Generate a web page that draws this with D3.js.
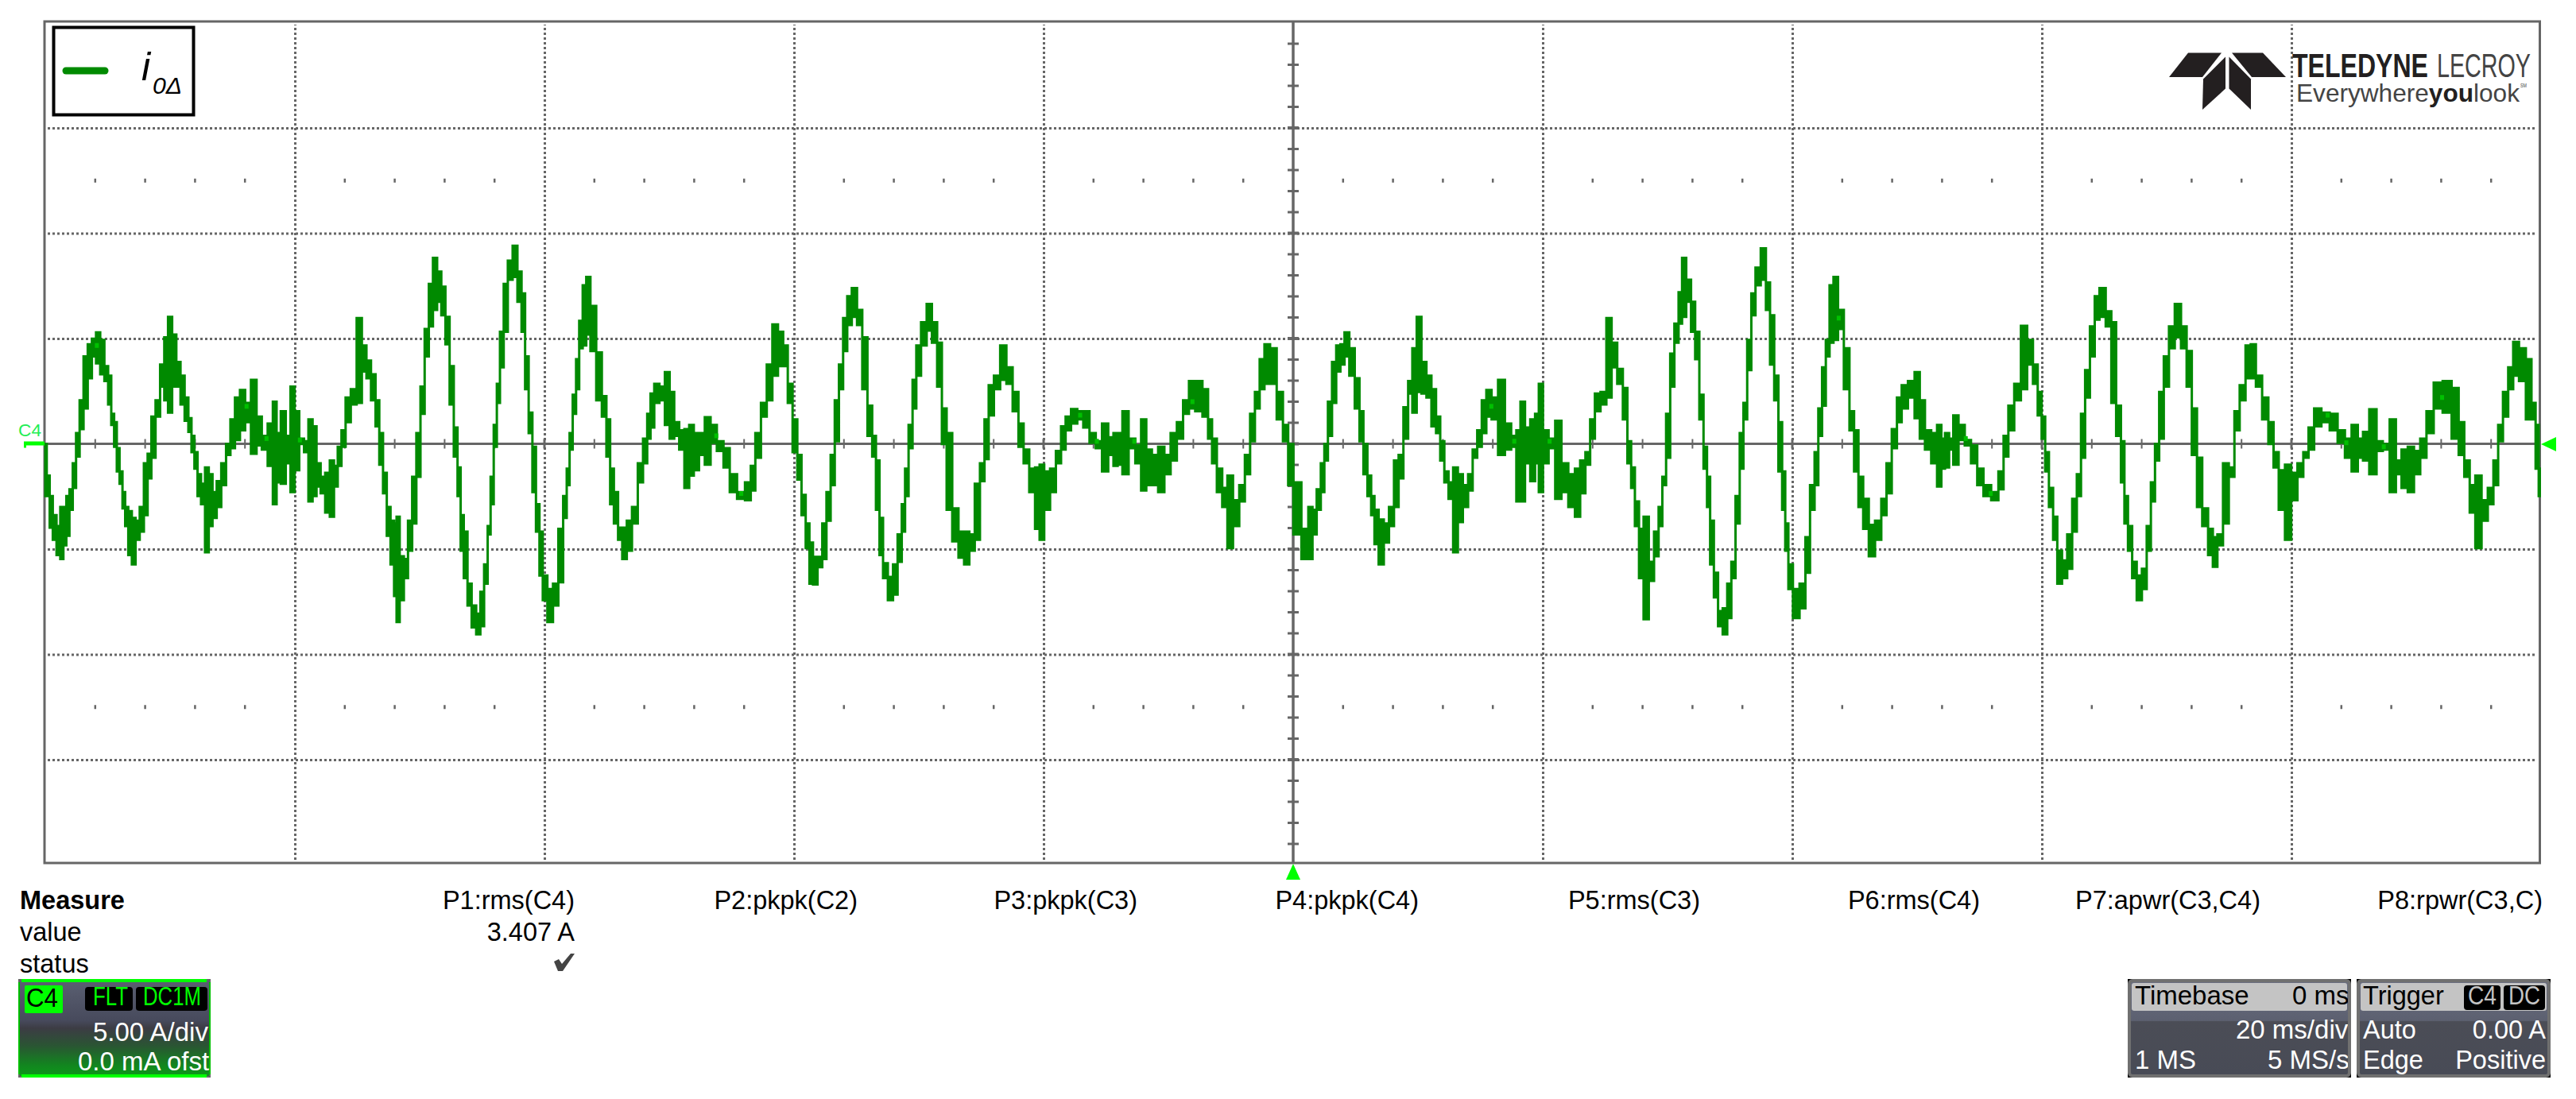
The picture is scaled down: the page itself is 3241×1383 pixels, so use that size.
<!DOCTYPE html>
<html>
<head>
<meta charset="utf-8">
<script src="https://cdn.jsdelivr.net/npm/d3@7/dist/d3.min.js"></script>
<style>
html,body{margin:0;padding:0;background:#fff;}
svg{display:block;}
text{font-family:"Liberation Sans",Arial,sans-serif;}
</style>
</head>
<body>
<svg id="chart" width="3241" height="1383" viewBox="0 0 3241 1383"></svg>
<script>
// --- Chart values: [time ms, upper edge A, lower edge A] ---
const sweepFirstQuarter = [
[-100,-0.01,-2.48],[-99.77,-1.51,-2.48],[-99.53,-2.48,-3.98],[-99.27,-3.39,-4.56],[-98.93,-3.91,-5.28],[-98.67,-3,-5.47],[-98.43,-3,-4.82],[-98.2,-2.48,-4.37],[-97.93,-2.16,-3.13],[-97.67,-0.92,-2.09],[-97.4,0.51,-0.6],[-97.1,2.07,0.7],[-96.77,4.15,1.68],[-96.43,4.73,3.11],[-96.1,4.99,4.15],[-95.77,5.29,3.82],[-95.43,4.93,3.3],[-95.1,3.69,2.98],[-94.83,3.24,1.87],[-94.6,1.42,0.9],[-94.37,1.03,-0.14],[-94.17,-0.21,-1.31],[-93.93,-1.31,-1.9],[-93.7,-2.29,-3.07],[-93.5,-3,-3.91],[-93.2,-3.2,-5.28],[-92.93,-3.52,-5.73],[-92.6,-3.65,-4.56],[-92.27,-3,-4.17],[-91.93,-0.92,-3.39],[-91.67,-0.47,-1.64],[-91.33,1.29,-0.66],[-91,2.07,1.29],[-90.6,3.76,2.72],[-90.33,5.06,2.07],[-90,6.03,1.48],[-89.67,5.19,2.72],[-89.33,3.89,2.72],[-89,3.24,1.87],[-88.67,2.2,1.09],[-88.4,1.22,0.57],[-88.17,0.38,-0.4],[-87.93,-0.4,-1.18],[-87.67,-1.44,-2.48],[-87.37,-1.9,-2.87],[-87.03,-1.12,-5.15],[-86.77,-1.44,-3.91],[-86.43,-2.29,-3.52],[-86.1,-1.77,-3],[-85.7,-0.92,-1.96],[-85.33,-0.01,-0.53],[-85,1.16,-0.21],[-84.6,2.2,0.18],[-84.2,2.56,0.64],[-83.77,1.94,1.03],[-83.27,3.04,-0.47],[-82.87,1.29,-0.08],[-82.43,0.38,-0.27],[-81.93,0.96,-1.05],[-81.6,2,-2.87],[-81.33,0.51,-1.83],[-80.93,1.55,-1.9],[-80.53,0.38,-0.92],[-80.17,2.72,-2.29],[-79.87,1.55,-1.25],[-79.43,0.25,-0.01],[-79.1,0.12,-0.4],[-78.73,1.16,-2.74],[-78.43,0.83,-2.48],[-78.1,-0.92,-2.03],[-77.77,-1.57,-2.35],[-77.37,-1.38,-3.26],[-77.03,-0.79,-3.46],[-76.7,-1.05,-2.03],[-76.43,-0.14,-1.05],[-76.1,0.64,-0.14],[-75.77,2.2,1.03],[-75.27,2.59,1.87],[-74.83,5.97,1.94],[-74.43,4.67,3.43],[-74.1,3.95,3.11],[-73.7,3.3,2.07],[-73.37,2.07,0.83],[-73.1,0.51,-0.99],[-72.77,-1.38,-2.35],[-72.5,-3,-4.37],[-72.17,-3.65,-5.73],[-71.93,-3.78,-7.23],[-71.77,-3.46,-8.46],[-71.43,-5.34,-7.42],[-71.1,-5.47,-6.38],[-70.77,-3.65,-5.08],[-70.43,-1.57,-3.78],[-70.1,0.51,-1.57],[-69.77,2.72,1.42],[-69.43,5.45,4.15],[-69.1,7.59,5.58],[-68.77,8.83,6.36],[-68.43,8.18,6.75],[-68.1,7.46,6.1],[-67.77,6.03,4.73],[-67.43,3.69,1.87],[-67.1,0.77,-0.6],[-66.83,-1.12,-2.48],[-66.6,-3.39,-5.08],[-66.33,-4.17,-6.38],[-66,-6.64,-7.68],[-65.67,-7.68,-8.72],[-65.27,-8.07,-9.05],[-65,-7.03,-8.66],[-64.67,-5.73,-6.64],[-64.43,-3.91,-4.3],[-64.2,-1.57,-2.87],[-63.93,0.9,-0.14],[-63.7,2.85,1.94],[-63.43,5.32,3.63],[-63.1,7.59,5.32],[-62.77,8.7,7.79],[-62.33,9.41,7.92],[-62,8.18,6.75],[-61.67,7.14,5.32],[-61.43,4.15,2.59],[-61.1,1.48,0.51],[-60.83,-0.14,-2.29],[-60.53,-2.87,-4.17],[-60.27,-4.17,-6.25],[-60,-6.25,-7.42],[-59.53,-6.9,-8.46],[-59.1,-6.64,-7.68],[-58.67,-4.04,-6.58],[-58.33,-2.48,-3.52],[-58.1,-1.18,-1.96],[-57.87,0.51,-0.27],[-57.6,2.33,1.42],[-57.33,4.02,2.59],[-57.1,5.84,4.54],[-56.77,7.53,4.67],[-56.53,7.92,5.19],[-56.1,6.55,4.41],[-55.6,4.34,2.07],[-55.2,2.26,1.29],[-54.87,1.16,-0.6],[-54.6,-1.18,-2.87],[-54.27,-2.29,-3.78],[-53.93,-3.98,-4.56],[-53.6,-3.98,-5.47],[-53.2,-3.65,-5.08],[-52.77,-3,-3.78],[-52.27,-0.92,-1.83],[-51.93,0.25,-0.92],[-51.6,1.42,0.25]
];
const sweepSecondQuarter = [
[-51.4,2.39,0.77],[-51,2.85,1.94],[-50.57,2.72,2.07],[-50.13,3.41,0.9],[-49.8,2.46,0.25],[-49.4,1.03,0.38],[-49,0.64,-0.27],[-48.57,0.7,-2.09],[-48.23,0.9,-1.51],[-47.83,0.51,-1.25],[-47.4,0.51,-0.53],[-46.9,1.26,-0.99],[-46.47,0.9,0.05],[-45.9,0.12,-0.34],[-45.4,-0.21,-1.12],[-44.9,-1.44,-2.29],[-44.23,-2.29,-2.61],[-43.63,-1.83,-2.68],[-43.3,-1.05,-2.22],[-42.9,0.51,-0.66],[-42.4,1.94,1.29],[-41.97,3.76,2.07],[-41.5,5.67,3.24],[-41.07,5.32,3.69],[-40.67,4.67,3.69],[-40.33,2.85,1.94],[-39.9,1.16,-0.4],[-39.57,-0.53,-1.7],[-39.23,-2.42,-3.39],[-38.9,-3.78,-4.95],[-38.63,-4.69,-6.64],[-38.33,-5.37,-6.68],[-37.9,-5.37,-5.86],[-37.57,-3.78,-5.47],[-37.23,-2.29,-3.65],[-36.9,-0.53,-1.96],[-36.57,2.07,0.12],[-36.23,3.76,2.59],[-35.9,5.97,4.41],[-35.57,7.01,5.64],[-35.17,7.4,6.03],[-34.73,6.36,5.64],[-34.33,5.06,2.59],[-33.9,1.81,0.38],[-33.57,0.38,-0.6],[-33.3,-0.79,-3.13],[-33,-3.52,-5.28],[-32.73,-5.67,-6.38],[-32.23,-6.32,-7.42],[-31.9,-5.73,-7.16],[-31.5,-4.3,-5.6],[-31.23,-2.87,-4.17],[-30.97,-1.18,-2.48],[-30.67,0.9,-0.21],[-30.33,3.04,1.68],[-30.07,4.67,3.24],[-29.57,5.77,4.67],[-29.17,6.64,5.38],[-28.73,5.77,4.8],[-28.33,4.8,2.72],[-27.97,1.68,-0.01],[-27.57,0.51,-3.13],[-27.07,-3.07,-4.63],[-26.57,-4.17,-5.41],[-26.17,-4.17,-5.73],[-25.73,-4.3,-5.08],[-25.3,-1.9,-4.56],[-24.9,-0.92,-1.77],[-24.57,1.16,-0.73],[-24.23,2.78,1.35],[-23.73,3.24,2.59],[-23.23,4.67,3.04],[-22.73,3.63,2.85],[-22.23,2.46,1.55],[-21.8,0.96,-0.14],[-21.4,-0.27,-0.92],[-20.9,-1.18,-2.29],[-20.47,-1.12,-4.04],[-20.17,-0.99,-4.56],[-19.73,-1.31,-3.13],[-19.23,-1.18,-2.29],[-18.8,-0.34,-0.92],[-18.4,0.83,-0.27],[-18.07,1.29,0.64],[-17.53,1.65,0.96],[-17.07,1.55,1.16],[-16.57,1.55,0.77],[-16.07,0.51,0.05],[-15.57,0.12,-0.21],[-15.07,0.96,-1.31],[-14.57,0.31,-0.53],[-14.23,0.51,-1.05],[-13.9,0.51,-0.99],[-13.47,1.55,-1.44],[-12.9,0.25,-0.21],[-12.4,-0.08,-0.92],[-11.97,1.16,-2.22],[-11.57,-0.27,-1.96],[-11.07,-0.53,-1.96],[-10.57,-0.14,-2.29],[-10.07,-0.53,-1.44],[-9.57,0.51,-0.79],[-9.07,1.03,0.25],[-8.57,2.07,1.42],[-8.13,2.98,1.68],[-7.57,2.98,1.55],[-6.97,2.59,1.29],[-6.67,1.16,0.25],[-6.33,0.25,-0.92],[-5.9,-1.18,-2.29],[-5.47,-2.09,-3],[-5.07,-1.51,-4.95],[-4.57,-2.68,-3.91],[-4.07,-1.96,-2.74],[-3.67,-0.53,-1.44],[-3.23,1.42,0.12],[-2.9,2.46,1.68],[-2.47,4.02,2.59],[-2.13,4.73,2.85],[-1.57,4.54,2.85],[-1.07,2.46,1.16],[-0.57,0.9,0.12],[-0.23,-0.01,-1.96],[0.27,-1.83,-4.3]
];
const sweepThirdQuarter = [
[1.05,-4.04,-5.47],[1.38,-3,-5.47],[1.72,-3.13,-4.3],[2.05,-2.16,-3.13],[2.38,-0.92,-2.29],[2.62,-0.01,-0.79],[2.95,2,0.38],[3.28,3.89,1.94],[3.62,4.67,3.43],[3.95,4.73,3.76],[4.28,5.29,4.15],[4.72,4.54,3.24],[5.15,3.11,1.68],[5.48,1.55,0.12],[5.78,-0.01,-1.44],[6.12,-1.51,-2.48],[6.38,-2.48,-3.39],[6.65,-3.13,-4.76],[7.05,-3.59,-5.73],[7.48,-3.78,-4.69],[7.88,-3,-3.91],[8.28,-0.79,-3],[8.62,-0.53,-1.64],[9.05,1.74,0.25],[9.38,2.98,2.39],[9.72,4.54,1.48],[10.08,6.03,2.46],[10.48,3.89,2.39],[10.88,3.24,2.2],[11.28,2.59,0.83],[11.62,1.29,0.51],[11.95,0.12,-0.79],[12.28,-1.31,-1.83],[12.62,-1.83,-2.61],[13.02,-1.12,-5.15],[13.38,-1.44,-3.72],[13.82,-1.96,-3],[14.22,-1.44,-2.22],[14.55,-0.27,-0.66],[14.95,0.64,-0.14],[15.28,2.07,0.51],[15.68,2.56,1.29],[16.12,2.2,1.16],[16.72,3.04,-0.53],[17.22,0.96,-0.27],[17.72,0.38,-0.14],[18.05,0.64,-2.74],[18.38,2,-2.74],[18.78,0.77,-0.92],[19.22,1.16,-1.77],[19.55,1.42,-0.92],[19.82,2.85,-2.29],[20.22,0.64,-0.92],[20.72,0.25,-0.21],[21.28,1.09,-2.61],[21.72,-0.92,-2.29],[22.38,-1.44,-3],[22.78,-1.18,-3.46],[23.22,-0.79,-2.35],[23.62,-0.4,-0.99],[23.98,1.16,0.25],[24.38,2.39,1.55],[24.88,2.46,1.87],[25.32,5.97,2.2],[25.72,4.8,3.63],[26.22,3.56,2.85],[26.62,2.65,1.16],[26.95,0.12,-0.92],[27.22,-1.12,-2.09],[27.55,-2.74,-3.91],[27.88,-4.04,-6.38],[28.28,-3.46,-8.33],[28.72,-5.6,-6.51],[29.12,-4.17,-5.34],[29.45,-3,-3.91],[29.72,-1.57,-1.96],[30.05,1.42,-0.66],[30.38,4.28,2.72],[30.72,5.71,4.8],[31.05,7.2,5.71],[31.28,8.83,6.03],[31.72,7.79,6.75],[32.05,6.75,5.32],[32.38,5.32,4.02],[32.72,2.33,1.16],[33.05,-0.14,-1.18],[33.28,-1.57,-3],[33.55,-3.65,-5.73],[33.88,-6.12,-7.29],[34.22,-7.94,-8.66],[34.62,-7.81,-9.05],[34.95,-6.64,-8.27],[35.28,-5.6,-6.38],[35.62,-2.48,-3.78],[35.95,0.51,-1.18],[36.22,1.94,1.16],[36.55,4.93,3.5],[36.88,7.14,6.1],[37.22,8.37,7.53],[37.72,9.28,7.79],[38.05,7.66,6.36],[38.38,6.1,3.76],[38.72,3.24,2.07],[39.05,1.03,-1.31],[39.32,-1.31,-3.13],[39.55,-3.78,-5.08],[39.82,-5.73,-6.9],[40.28,-6.9,-8.27],[40.88,-6.64,-7.81],[41.22,-4.43,-6.12],[41.62,-1.96,-3.13],[41.95,-0.4,-1.96],[42.22,1.68,0.38],[42.55,3.63,1.81],[42.82,4.93,4.15],[43.15,7.53,4.8],[43.45,7.92,4.93],[43.88,6.36,5.45],[44.38,4.54,2.59],[44.78,1.55,0.64],[45.12,0.64,-1.31],[45.48,-1.57,-3],[45.88,-2.61,-4.04],[46.38,-3.85,-5.34],[46.88,-3.65,-4.56],[47.38,-2.61,-3.39],[47.72,-0.92,-2.35],[48.22,0.7,-0.21],[48.55,2.2,1.03],[48.98,2.78,1.68],[49.55,2.98,2.2],[50.05,3.41,1.22],[50.38,2.07,0.25],[50.88,0.64,-0.27],[51.38,0.51,-0.92],[51.82,0.9,-2.03]
];
const sweepFourthQuarter = [
[52.07,0.25,-1.18],[52.4,0.51,-1.12],[52.73,0.25,-0.27],[53.07,1.35,-0.99],[53.57,0.9,0.18],[54.07,0.18,-0.08],[54.57,-0.08,-0.92],[55.07,-1.18,-1.96],[55.57,-1.96,-2.48],[56.3,-2.29,-2.68],[56.73,-1.31,-2.16],[57.13,0.38,-0.6],[57.5,1.81,0.64],[58.07,2.85,2.07],[58.57,5.6,2.59],[59.07,4.93,3.76],[59.5,3.76,2.85],[59.83,2.46,1.35],[60.13,1.29,0.25],[60.4,-0.4,-1.31],[60.73,-2.09,-3],[61.07,-3.46,-4.56],[61.4,-5.08,-6.64],[61.83,-5.54,-6.38],[62.23,-4.3,-5.93],[62.63,-2.61,-4.17],[62.97,-1.44,-2.48],[63.3,1.42,-0.66],[63.63,3.5,2.2],[64.07,5.58,4.15],[64.4,7.01,5.9],[64.83,7.4,6.03],[65.4,6.29,5.58],[65.73,5.77,1.94],[66.17,1.81,0.38],[66.5,0.12,-1.83],[66.73,-2.48,-3.78],[67.07,-3.91,-5.08],[67.4,-5.6,-6.38],[67.8,-6.25,-7.42],[68.23,-5.93,-6.9],[68.57,-3.91,-5.08],[68.9,-1.83,-2.74],[69.23,-0.01,-0.79],[69.57,2.46,0.25],[69.97,4.15,2.72],[70.4,5.58,4.54],[70.9,6.64,5.06],[71.4,5.58,4.54],[71.8,4.41,2.72],[72.23,1.68,-0.53],[72.63,-0.66,-3],[73.07,-3.07,-3.91],[73.57,-4.04,-5.28],[73.83,-4.43,-5.84],[74.3,-4.3,-4.82],[74.73,-0.92,-3.78],[75.23,-1.12,-1.57],[75.63,1.55,0.64],[76.07,2.78,2.07],[76.57,4.67,3.11],[76.9,4.73,3.11],[77.4,3.24,2.72],[77.9,2.2,1.16],[78.4,1.03,-0.01],[78.73,-0.4,-1.12],[79.23,-1.25,-3.13],[79.73,-0.99,-4.56],[80.23,-1.38,-2.68],[80.73,-0.92,-1.57],[81.17,-0.4,-0.66],[81.57,0.77,-0.27],[82.07,1.68,0.83],[82.73,1.48,1.03],[83.4,1.42,0.64],[84,0.64,0.05],[84.57,0.25,-0.66],[85.07,0.9,-1.31],[85.57,0.25,-0.66],[85.9,0.57,-0.79],[86.57,1.64,-1.44],[87.07,0.12,-0.34],[87.57,-0.01,-0.27],[88.17,1.16,-2.29],[88.57,-0.79,-1.44],[89.07,-0.27,-2.09],[89.57,-0.14,-2.29],[90.07,-0.34,-1.44],[90.57,0.25,-0.66],[91.07,1.55,0.51],[91.73,2.91,1.68],[92.5,2.98,1.48],[93.17,2.65,0.25],[93.63,1.03,-0.53],[94.07,-0.79,-1.57],[94.5,-1.96,-3.26],[94.97,-1.51,-4.95],[95.5,-2.68,-3.65],[95.97,-2.09,-2.87],[96.4,-0.79,-1.96],[96.73,0.9,0.12],[97.17,2.46,1.29],[97.57,3.63,2.59],[97.97,4.84,3.24],[98.5,4.54,2.98],[99.07,4.02,1.16],[99.4,1.94,1.16],[99.73,0.9,-1.18],[99.9,-1.18,-2.48]
];
// Brighter spots where the trace dwells: [time ms, current A]
const brightSpots = [[-95.87,4.67],[-83.87,1.78],[-82.27,0.25],[-79.6,0.18],[-46.23,0.38],[-44.23,-2.36],[-17.07,1.36],[-15.73,0.12],[-12.73,0.12],[-8.07,2],[15.88,1.78],[17.72,0.12],[20.55,0.12],[43.72,5.97],[53.9,0.25],[55.9,-2.36],[82.9,1.36],[84.4,0.05],[87.4,-0.14],[92.07,2.2]];
const timeDivisionsMs = [-80,-60,-40,-20,20,40,60,80];
const currentDivisionsA = [-15,-10,-5,5,10,15];
const timeMinorTicksMs = [-96,-92,-88,-84,-76,-72,-68,-64,-56,-52,-48,-44,-36,-32,-28,-24,-16,-12,-8,-4,4,8,12,16,24,28,32,36,44,48,52,56,64,68,72,76,84,88,92,96];
const currentMinorTicksA = [-19,-18,-17,-16,-14,-13,-12,-11,-9,-8,-7,-6,-4,-3,-2,-1,1,2,3,4,6,7,8,9,11,12,13,14,16,17,18,19];
const currentMajorTicksA = [-15,-10,-5,0,5,10,15];
const markerRowsA = [12.5,-12.5];
const legendLabel = "i";
const legendSubscript = "0Δ";
const measureRowLabels = ["Measure","value","status"];
const measureNames = ["P1:rms(C4)","P2:pkpk(C2)","P3:pkpk(C3)","P4:pkpk(C4)","P5:rms(C3)","P6:rms(C4)","P7:apwr(C3,C4)","P8:rpwr(C3,C)"];
const measureRightEdges = [723,1079,1431,1785,2139,2491,2844,3199];
const measureValue = "3.407 A";

// --- Drawing ---
const svg = d3.select("#chart");
const C = {grid:"#666666", trace:"#008a00", lime:"#00ff00"};
const plot = {left:56, right:3195.5, top:27, bottom:1086};
const x = d3.scaleLinear().domain([-100,100]).range([57,3197]);
const y = d3.scaleLinear().domain([-20,20]).range([1088.5,28.5]);
const sweep = [...sweepFirstQuarter,...sweepSecondQuarter,...sweepThirdQuarter,...sweepFourthQuarter];

const defs = svg.append("defs");
function grad(id, stops){
  const g = defs.append("linearGradient").attr("id",id).attr("x1",0).attr("y1",0).attr("x2",0).attr("y2",1);
  stops.forEach(s=>g.append("stop").attr("offset",s[0]).attr("stop-color",s[1]));
}
grad("chan",[[0,"#5b6072"],[0.42,"#474a5c"],[0.5,"#3c3c44"],[0.68,"#2a5533"],[0.88,"#12851f"],[1,"#0c9a1a"]]);
grad("info",[[0,"#6a6e80"],[0.42,"#5c6070"],[0.43,"#4b4d56"],[1,"#484b56"]]);
defs.append("clipPath").attr("id","clipChan").append("rect").attr("x",23).attr("y",1232).attr("width",241).attr("height",124);
defs.append("clipPath").attr("id","clipTb").append("rect").attr("x",2677).attr("y",1232).attr("width",277).attr("height",124);

// Grid, through d3 axes
const gridH = plot.bottom-plot.top-8;
const gridW = plot.right-plot.left-8;
const xGrid = svg.append("g").attr("transform",`translate(0,${plot.bottom-4})`)
  .call(d3.axisBottom(x).tickValues(timeDivisionsMs).tickSize(-gridH).tickFormat(""));
const yGrid = svg.append("g").attr("transform",`translate(${plot.left+4},0)`)
  .call(d3.axisLeft(y).tickValues(currentDivisionsA).tickSize(-gridW).tickFormat(""));
[xGrid,yGrid].forEach(g=>{
  g.select(".domain").remove();
  g.selectAll("line").attr("stroke",C.grid).attr("stroke-width",3).attr("stroke-dasharray","3 3");
});

// Marker dots at ±2.5 div
markerRowsA.forEach(v=>{
  svg.append("g").selectAll("line").data(timeMinorTicksMs).join("line")
    .attr("x1",d=>x(d)).attr("x2",d=>x(d)).attr("y1",y(v)-2.5).attr("y2",y(v)+2.5)
    .attr("stroke",C.grid).attr("stroke-width",2.5);
});

// Centre cross
svg.append("g").selectAll("line").data(timeMinorTicksMs).join("line")
  .attr("x1",d=>x(d)).attr("x2",d=>x(d)).attr("y1",y(0)-6).attr("y2",y(0)+6)
  .attr("stroke",C.grid).attr("stroke-width",2);
svg.append("g").selectAll("line").data(timeDivisionsMs).join("line")
  .attr("x1",d=>x(d)).attr("x2",d=>x(d)).attr("y1",y(0)-6).attr("y2",y(0)+6)
  .attr("stroke",C.grid).attr("stroke-width",3);
svg.append("g").selectAll("line").data(currentMinorTicksA).join("line")
  .attr("x1",x(0)-7).attr("x2",x(0)+7).attr("y1",d=>y(d)).attr("y2",d=>y(d))
  .attr("stroke",C.grid).attr("stroke-width",3);
svg.append("g").selectAll("line").data(currentMajorTicksA).join("line")
  .attr("x1",x(0)-7).attr("x2",x(0)+7).attr("y1",d=>y(d)).attr("y2",d=>y(d))
  .attr("stroke",C.grid).attr("stroke-width",4);
svg.append("line").attr("x1",plot.left).attr("x2",plot.right).attr("y1",y(0)).attr("y2",y(0)).attr("stroke",C.grid).attr("stroke-width",3);
svg.append("line").attr("x1",x(0)).attr("x2",x(0)).attr("y1",plot.top).attr("y2",plot.bottom).attr("stroke",C.grid).attr("stroke-width",3.5);

// Frame
svg.append("rect").attr("x",plot.left).attr("y",plot.top).attr("width",plot.right-plot.left).attr("height",plot.bottom-plot.top)
  .attr("fill","none").attr("stroke",C.grid).attr("stroke-width",3);

// Trace: each sample is a column from its lower to its upper edge, as on the scope's raster
const band = d3.area().x(d=>x(d[0])).y0(d=>y(d[2])).y1(d=>y(d[1])).curve(d3.curveStep);
svg.append("path").datum(sweep).attr("d",band).attr("fill",C.trace).attr("stroke",C.trace).attr("stroke-width",3);
svg.append("g").selectAll("rect").data(brightSpots).join("rect")
  .attr("x",d=>x(d[0])-2.5).attr("y",d=>y(d[1])-3).attr("width",5).attr("height",6).attr("fill","#00c000");

// Markers in lime
svg.append("path").attr("d","M30 555.5H56V560.5H33V563.5H30Z").attr("fill",C.lime);
svg.append("text").attr("x",23).attr("y",549).attr("font-size",22).attr("fill","#22ee55").attr("textLength",29).attr("lengthAdjust","spacingAndGlyphs").text("C4");
svg.append("path").attr("d","M3197 559L3216 550V568Z").attr("fill",C.lime);
svg.append("path").attr("d","M1627 1087L1636 1107H1618Z").attr("fill",C.lime);

// Legend
svg.append("rect").attr("x",67.5).attr("y",34.5).attr("width",176).attr("height",110).attr("fill","#fff").attr("stroke","#000").attr("stroke-width",4);
svg.append("line").attr("x1",83).attr("x2",132).attr("y1",89).attr("y2",89).attr("stroke",C.trace).attr("stroke-width",9).attr("stroke-linecap","round");
svg.append("text").attr("x",178).attr("y",101).attr("font-family","Liberation Serif").attr("font-style","italic").attr("font-size",50).attr("fill","#000").text(legendLabel);
svg.append("text").attr("x",192).attr("y",118).attr("font-family","Liberation Serif").attr("font-style","italic").attr("font-size",30).attr("fill","#000").attr("textLength",37).attr("lengthAdjust","spacingAndGlyphs").text(legendSubscript);

// Logo
const logo = svg.append("g").attr("fill","#231f20");
["M2753 66.5H2795L2771 97H2729Z","M2808 66.5H2847L2876 97H2833Z","M2772 99.5L2800 71.5V111.5L2771 138Z","M2804.5 71.5L2832 99.5V138L2804.5 111.5Z"].forEach(d=>logo.append("path").attr("d",d));
function logoText(str,x0,x1,base,size,weight,fill){
  svg.append("text").attr("x",x0).attr("y",base).attr("font-size",size).attr("font-weight",weight).attr("fill",fill)
    .attr("textLength",x1-x0).attr("lengthAdjust","spacingAndGlyphs").text(str);
}
logoText("TELEDYNE",2884,3055,97,42,"bold","#231f20");
logoText("LECROY",3066,3184,97,42,"normal","#444");
const tagline = svg.append("text").attr("x",2889).attr("y",128).attr("font-size",32).attr("fill","#444")
  .attr("textLength",281).attr("lengthAdjust","spacingAndGlyphs");
tagline.append("tspan").text("Everywhere");
tagline.append("tspan").attr("font-weight","bold").attr("fill","#231f20").text("you");
tagline.append("tspan").text("look");
logoText("SM",3171,3179,110,7,"normal","#444");

// Measure table
const label = (t,xx,yy,opts={})=>svg.append("text").attr("x",xx).attr("y",yy).attr("font-size",opts.size||32.5)
  .attr("fill",opts.fill||"#000").attr("font-weight",opts.weight||"normal").attr("text-anchor",opts.anchor||"start").text(t);
label(measureRowLabels[0],25,1144,{weight:"bold"});
label(measureRowLabels[1],25,1184);
label(measureRowLabels[2],25,1224);
measureNames.forEach((n,i)=>label(n,measureRightEdges[i],1144,{anchor:"end"}));
label(measureValue,723,1184,{anchor:"end"});
svg.append("path").attr("d","M697 1210L703 1207L707 1213L718 1200H723L708 1222H702Z").attr("fill","#444");

// Channel panel
svg.append("rect").attr("x",23).attr("y",1232).attr("width",242).attr("height",124).attr("fill","#000");
svg.append("rect").attr("x",24).attr("y",1233).attr("width",240).attr("height",122).attr("fill","url(#chan)").attr("stroke",C.grid).attr("stroke-width",2);
svg.append("rect").attr("x",27).attr("y",1232).attr("width",233).attr("height",4).attr("fill",C.lime);
svg.append("rect").attr("x",27).attr("y",1352).attr("width",233).attr("height",4).attr("fill",C.lime);
svg.append("rect").attr("x",23).attr("y",1236).attr("width",2).attr("height",116).attr("fill","#00c000");
svg.append("rect").attr("x",263).attr("y",1236).attr("width",2).attr("height",116).attr("fill","#00c000");
svg.append("rect").attr("x",31).attr("y",1240).attr("width",48).attr("height",35).attr("rx",2).attr("fill",C.lime);
function tag(t,x0,x1,tx0,tx1,yTop,yBot,fg,base){
  svg.append("rect").attr("x",x0).attr("y",yTop).attr("width",x1-x0).attr("height",yBot-yTop).attr("rx",4).attr("fill","#000");
  svg.append("text").attr("x",tx0).attr("y",base).attr("font-size",33).attr("fill",fg).attr("textLength",tx1-tx0).attr("lengthAdjust","spacingAndGlyphs").text(t);
}
svg.append("text").attr("x",33).attr("y",1267).attr("font-size",33).attr("fill","#000").attr("textLength",40).attr("lengthAdjust","spacingAndGlyphs").text("C4");
tag("FLT",107,167,117,161,1242,1272,C.lime,1265);
tag("DC1M",171,261,180,253,1242,1272,C.lime,1265);
const chanG = svg.append("g").attr("clip-path","url(#clipChan)");
chanG.append("text").attr("x",117).attr("y",1310).attr("font-size",33).attr("fill","#fff").text("5.00 A/div");
chanG.append("text").attr("x",98).attr("y",1347).attr("font-size",33).attr("fill","#fff").text("0.0 mA ofst");

// Timebase + trigger panels
function infoPanel(x0,x1){
  svg.append("rect").attr("x",x0).attr("y",1232).attr("width",x1-x0).attr("height",124).attr("fill","#000");
  svg.append("rect").attr("x",x0+2).attr("y",1234).attr("width",x1-x0-4).attr("height",120).attr("rx",4).attr("fill","url(#info)").attr("stroke","#707070").attr("stroke-width",4);
  svg.append("rect").attr("x",x0+5).attr("y",1237).attr("width",x1-x0-10).attr("height",35).attr("rx",3).attr("fill","#c4c4c4");
}
infoPanel(2677,2958);
infoPanel(2965,3209);
const tbG = svg.append("g").attr("clip-path","url(#clipTb)");
tbG.append("text").attr("x",2686).attr("y",1264).attr("font-size",33).attr("fill","#000").text("Timebase");
tbG.append("text").attr("x",2884).attr("y",1264).attr("font-size",33).attr("fill","#000").text("0 ms");
tbG.append("text").attr("x",2813).attr("y",1307).attr("font-size",33).attr("fill","#fff").text("20 ms/div");
tbG.append("text").attr("x",2686).attr("y",1345).attr("font-size",33).attr("fill","#fff").text("1 MS");
tbG.append("text").attr("x",2853).attr("y",1345).attr("font-size",33).attr("fill","#fff").text("5 MS/s");
label("Trigger",2973,1264);
tag("C4",3100,3146,3105,3141,1240,1271,"#c4c4c4",1264);
tag("DC",3150,3202,3156,3196,1240,1271,"#c4c4c4",1264);
label("Auto",2973,1307,{fill:"#fff"});
label("0.00 A",3203,1307,{fill:"#fff",anchor:"end"});
label("Edge",2973,1345,{fill:"#fff"});
label("Positive",3203,1345,{fill:"#fff",anchor:"end"});
</script>
</body>
</html>
